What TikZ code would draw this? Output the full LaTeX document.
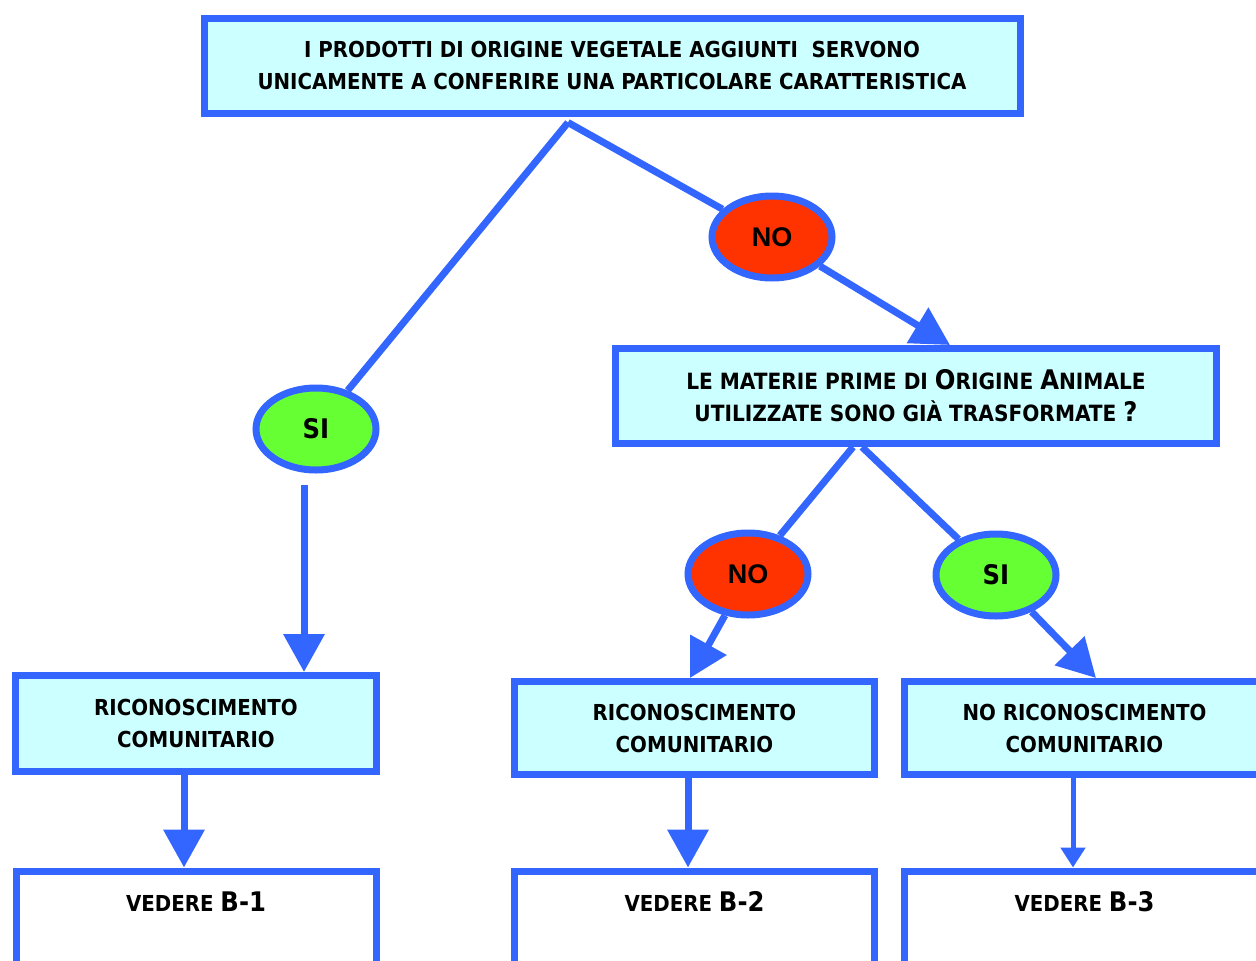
\documentclass[tikz,border=0pt]{standalone}
\usepackage{fontspec}
\usetikzlibrary{arrows.meta,shapes.geometric}
\newfontfamily\boxfont{DejaVu Sans Condensed}
\newfontfamily\ellfont{Liberation Sans}
\definecolor{bblue}{HTML}{3366FF}
\definecolor{cyanbg}{HTML}{CCFFFF}
\definecolor{sigreen}{HTML}{66FF33}
\definecolor{nored}{HTML}{FF3300}
\newcommand\Sm[1]{{\fontsize{22.4}{32}\selectfont #1}}
\newcommand\Bg[1]{{\fontsize{27}{32}\selectfont #1}}
\tikzset{
  box/.style={draw=bblue, line width=7pt, fill=cyanbg, inner sep=0pt, align=center,
    font=\boxfont\bfseries\fontsize{22}{32}\selectfont},
  endbox/.style={draw=bblue, line width=7pt, fill=white, inner sep=0pt, anchor=north,
    minimum width=360pt, text height=40pt, text depth=80pt,
    font=\boxfont\bfseries\fontsize{22}{32}\selectfont},
  oval/.style={ellipse, draw=bblue, line width=7pt, minimum width=120pt, minimum height=82pt,
    inner sep=0pt},
  sioval/.style={oval, fill=sigreen, font=\boxfont\bfseries\fontsize{27}{27}\selectfont},
  nooval/.style={oval, fill=nored, font=\ellfont\bfseries\fontsize{27}{27}\selectfont},
  link/.style={draw=bblue, line width=7pt},
  arr/.style={link, -{Triangle[width=40pt,length=38pt]}},
  thinarr/.style={draw=bblue, line width=5pt, -{Triangle[width=24pt,length=20pt]}},
}
\begin{document}
\begin{tikzpicture}[x=1pt,y=-1pt]
\useasboundingbox (0,0) rectangle (1256,961);
% boxes
\node[box, minimum width=816pt, minimum height=95pt] (top) at (612,65.5)
  {I PRODOTTI DI ORIGINE VEGETALE AGGIUNTI\ \ SERVONO\\
   UNICAMENTE A CONFERIRE UNA PARTICOLARE CARATTERISTICA};
\node[box, minimum width=601pt, minimum height=95pt] (q2) at (916,396)
  {\Sm{LE MATERIE PRIME DI }\Bg{O}\Sm{RIGINE }\Bg{A}\Sm{NIMALE}\\
   \Sm{UTILIZZATE SONO GIÀ TRASFORMATE }\Bg{?}};
\node[box, minimum width=361pt, minimum height=96pt] (l1) at (196,723.5)
  {RICONOSCIMENTO\\COMUNITARIO};
\node[box, minimum width=360pt, minimum height=93pt] (m1) at (694.5,728)
  {RICONOSCIMENTO\\COMUNITARIO};
\node[box, minimum width=360pt, minimum height=93pt] (r1) at (1084.5,728)
  {NO RICONOSCIMENTO\\COMUNITARIO};
\node[endbox] (l2) at (196,867.5) {VEDERE {\fontsize{27}{32}\selectfont B-1}};
\node[endbox] (m2) at (694.5,867.5) {VEDERE {\fontsize{27}{32}\selectfont B-2}};
\node[endbox] (r2) at (1084.5,867.5) {VEDERE {\fontsize{27}{32}\selectfont B-3}};
% ellipses
\node[sioval] (si1) at (316,429) {SI};
\node[nooval] (no1) at (772,237) {NO};
\node[nooval] (no2) at (748,574) {NO};
\node[sioval] (si2) at (996,575) {SI};
% connectors
\coordinate (apex) at ([xshift=-44pt,yshift=-6pt]top.south);
\draw[link] (apex) -- (si1);
\draw[link] (apex) -- (no1);
\draw[arr] (no1) -- ([xshift=34pt]q2.north);
\draw[arr] ([xshift=-12pt,yshift=-11pt]si1.south) -- ([xshift=-12pt]si1.south |- l1.north);
\draw[link] ([xshift=-63pt]q2.south) -- (no2);
\draw[link] ([xshift=-54pt]q2.south) -- (si2);
\draw[arr] (no2) -- ([xshift=-4.5pt]m1.north);
\draw[arr] (si2) -- ([xshift=11.5pt]r1.north);
\draw[arr] ([xshift=-12pt]l1.south) -- ([xshift=-12pt]l2.north);
\draw[arr] ([xshift=-6.5pt]m1.south) -- ([xshift=-6.5pt]m2.north);
\draw[thinarr] ([xshift=-11.5pt]r1.south) -- ([xshift=-11.5pt]r2.north);
\end{tikzpicture}
\end{document}
